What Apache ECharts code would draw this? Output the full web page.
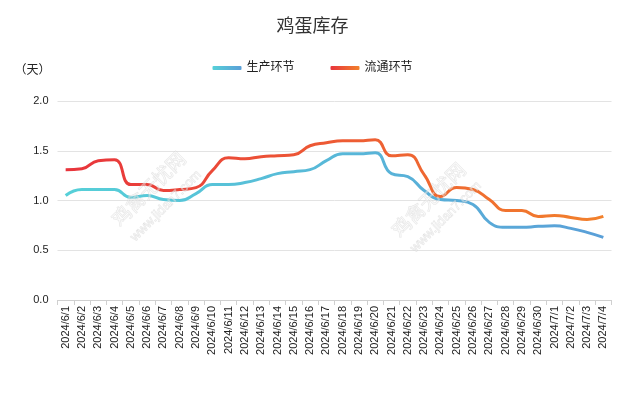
<!DOCTYPE html>
<html>
<head>
<meta charset="utf-8">
<script src="https://cdn.jsdelivr.net/npm/echarts@6/dist/echarts.min.js"></script>
<style>html,body{margin:0;padding:0;background:#fff;}#c{width:625px;height:396px;}</style>
</head>
<body>
<div id="c"></div>
<script>
var categories = ['2024/6/1','2024/6/2','2024/6/3','2024/6/4','2024/6/5','2024/6/6','2024/6/7','2024/6/8','2024/6/9','2024/6/10','2024/6/11','2024/6/12','2024/6/13','2024/6/14','2024/6/15','2024/6/16','2024/6/17','2024/6/18','2024/6/19','2024/6/20','2024/6/21','2024/6/22','2024/6/23','2024/6/24','2024/6/25','2024/6/26','2024/6/27','2024/6/28','2024/6/29','2024/6/30','2024/7/1','2024/7/2','2024/7/3','2024/7/4'];
var production = [1.05,1.11,1.11,1.11,1.03,1.05,1.01,1.00,1.07,1.16,1.16,1.18,1.22,1.27,1.29,1.31,1.40,1.47,1.47,1.48,1.27,1.24,1.10,1.01,1.00,0.96,0.78,0.73,0.73,0.74,0.745,0.72,0.68,0.63];
var circulation = [1.31,1.32,1.40,1.41,1.16,1.16,1.10,1.11,1.13,1.30,1.43,1.42,1.44,1.45,1.46,1.55,1.58,1.60,1.60,1.61,1.45,1.46,1.26,1.04,1.13,1.11,1.01,0.90,0.90,0.84,0.85,0.83,0.81,0.84];
var yTicks = [0, 0.5, 1.0, 1.5, 2.0];

var FONT = '"Liberation Sans", "Noto Sans CJK SC", sans-serif';
var chart = echarts.init(document.getElementById('c'));
var blueGrad = new echarts.graphic.LinearGradient(0,0,1,0,[{offset:0,color:'#56d0d8'},{offset:1,color:'#5a9fd8'}]);
var redGrad = new echarts.graphic.LinearGradient(0,0,1,0,[{offset:0,color:'#e8343c'},{offset:1,color:'#f2812c'}]);
function wm(x, y, text, size) {
  return {type:'text', x:x, y:y, rotation:Math.PI/4, z:100, silent:true,
    style:{text:text, fontSize:size, fontFamily:FONT, fill:'rgba(255,255,255,0.35)', stroke:'rgba(200,200,200,0.45)', lineWidth:0.8, align:'center', verticalAlign:'middle'}};
}
chart.setOption({
  backgroundColor:'#fff',
  textStyle:{fontFamily:FONT},
  title:{text:'鸡蛋库存', left:'center', top:13, textStyle:{fontSize:18, fontWeight:'normal', color:'#333', fontFamily:FONT}},
  legend:{top:57, left:'center', icon:'roundRect', itemWidth:29, itemHeight:4, itemGap:36,
    textStyle:{fontSize:12, color:'#222', fontFamily:FONT},
    data:['生产环节','流通环节']},
  grid:{left:57.5, right:13.5, top:101, bottom:96, containLabel:false},
  xAxis:{type:'category', data:categories, boundaryGap:true,
    axisLine:{lineStyle:{color:'#d0d0d0'}},
    axisTick:{show:true, lineStyle:{color:'#d0d0d0'}},
    axisLabel:{rotate:90, interval:0, fontSize:11, color:'#222', margin:6, fontFamily:FONT}},
  yAxis:{type:'value', min:yTicks[0], max:yTicks[yTicks.length-1], interval:0.5,
    name:'（天）', nameLocation:'end', nameGap:24,
    nameTextStyle:{fontSize:12, color:'#222', align:'right', padding:[0,7,0,0], fontFamily:FONT},
    axisLine:{show:false}, axisTick:{show:false},
    axisLabel:{color:'#222', fontSize:11, margin:9, formatter:function(v){return v.toFixed(1);}},
    splitLine:{lineStyle:{color:'#e3e3e3'}}},
  series:[
    {name:'生产环节', type:'line', data:production, smooth:true, showSymbol:false, symbol:'none',
      itemStyle:{color:blueGrad}, lineStyle:{width:3, color:blueGrad}},
    {name:'流通环节', type:'line', data:circulation, smooth:true, showSymbol:false, symbol:'none',
      itemStyle:{color:redGrad}, lineStyle:{width:3, color:redGrad}}
  ],
  graphic:[
    wm(150, 190, '鸡禽无忧网', 19),
    wm(166, 206, 'www.jidan7.com', 13),
    wm(430, 201, '鸡禽无忧网', 19),
    wm(446, 217, 'www.jidan7.com', 13)
  ]
});
</script>
</body>
</html>
